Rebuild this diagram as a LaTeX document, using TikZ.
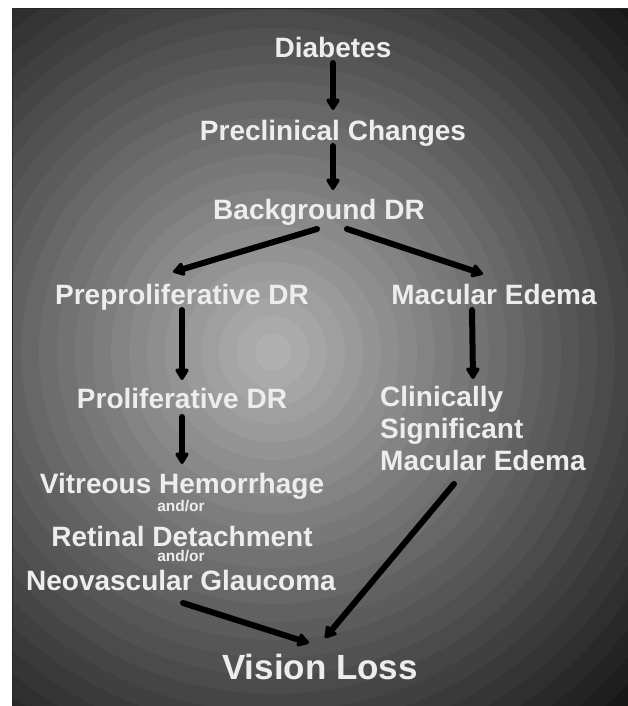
\documentclass[tikz,border=0pt]{standalone}
\usepackage{fontspec}
\setmainfont{Liberation Sans}
\usetikzlibrary{arrows.meta}

\tikzset{
  stage/.style={anchor=base, inner sep=0pt, text=black!7, font=\fontsize{28}{32}\selectfont\bfseries},
  andor/.style={anchor=base, inner sep=0pt, text=black!7, font=\fontsize{15.5}{17}\selectfont\bfseries},
  flow/.style={line width=6pt, line cap=round, black, -{Triangle[length=13pt,width=15pt,round]}},
}

\begin{document}
\begin{tikzpicture}[x=1pt,y=-1pt]
\useasboundingbox (0,0) rectangle (628,706);

% Draw shaded background rings
\begin{scope}
\clip (12,9) rectangle (628,706);
\fill[black!92] (12,9) rectangle (628,706);
\foreach \i in {28,...,0} {
  \pgfmathsetmacro\pc{31+2.2*\i}
  \fill[black!\pc] (273,352) circle[radius={(\i+1)*18pt}];
}
\end{scope}
\draw[black!85,line width=1pt] (12,9) rectangle (628,706);

% Stages
\node[stage] (diab) at (333,58) {Diabetes};
\node[stage] (precl) at (333,140) {Preclinical Changes};
\node[stage] (bgdr) at (319,219) {Background DR};
\node[stage] (prepro) at (182,304) {Preproliferative DR};
\node[stage] (macedema) at (494,304) {Macular Edema};
\node[stage] (prolif) at (182,408) {Proliferative DR};
\node[stage,anchor=north west,align=left] (csme) at (380,386) {Clinically\\Significant\\Macular Edema};
\node[stage] (vh) at (182,493) {Vitreous Hemorrhage};
\node[andor] (andor1) at (181,511) {and/or};
\node[stage] (rd) at (182,546) {Retinal Detachment};
\node[andor] (andor2) at (181,561) {and/or};
\node[stage] (nvg) at (181,590) {Neovascular Glaucoma};
\node[stage,font=\fontsize{35}{40}\selectfont\bfseries] (vloss) at (320,679) {Vision Loss};

% Arrows
\draw[flow] ([shift={(0,5)}]diab.base) -- ([shift={(0,-30)}]precl.base);
\draw[flow] ([shift={(0,6)}]precl.base) -- ([shift={(14,-29)}]bgdr.base);
\draw[flow] ([shift={(-2,10)}]bgdr.base) -- ([shift={(-9,-32)}]prepro.base);
\draw[flow] ([shift={(28,10)}]bgdr.base) -- ([shift={(-11,-30)}]macedema.base);
\draw[flow] ([shift={(0,6)}]prepro.base) -- ([shift={(0,-28)}]prolif.base);
\draw[flow] ([shift={(-22,6)}]macedema.base) -- ([shift={(93,-7)}]csme.north west);
\draw[flow] ([shift={(0,9)}]prolif.base) -- ([shift={(0,-29)}]vh.base);
\draw[flow] ([shift={(2,13)}]nvg.base) -- ([shift={(-11,-36)}]vloss.base);
\draw[flow] ([shift={(74,13)}]csme.south west) -- ([shift={(5,-41)}]vloss.base);

\end{tikzpicture}
\end{document}
